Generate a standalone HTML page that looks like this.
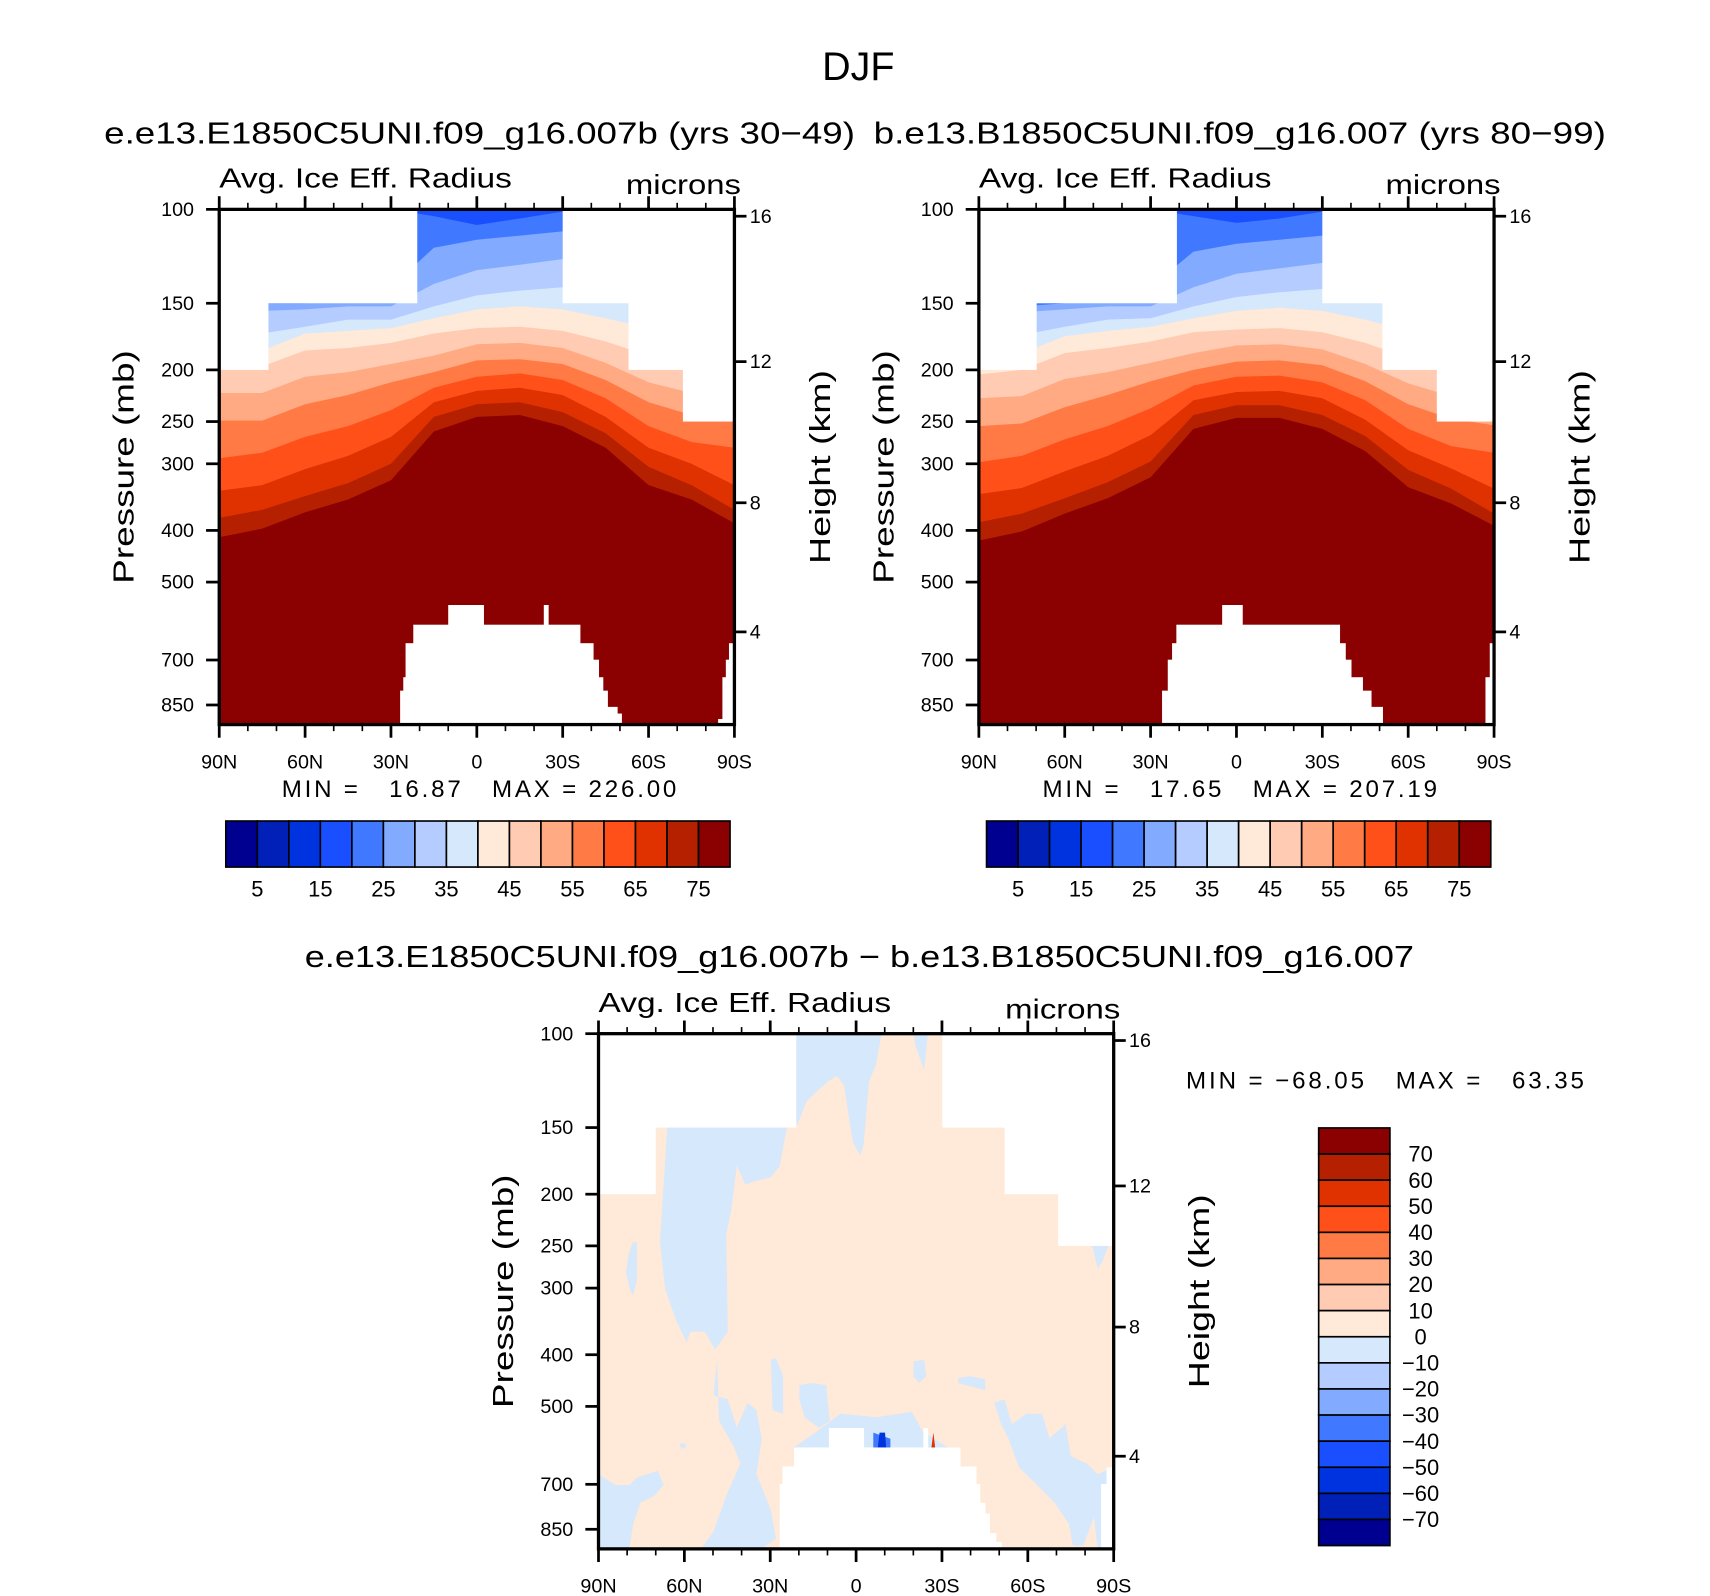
<!DOCTYPE html>
<html><head><meta charset="utf-8"><style>
html,body{margin:0;padding:0;background:#fff}
svg{display:block}
text{font-family:"Liberation Sans",sans-serif;fill:#000;white-space:pre}
</style></head><body>
<svg id="fig" width="1710" height="1596" viewBox="0 0 1560 1456" preserveAspectRatio="none" xmlns="http://www.w3.org/2000/svg">
<text x="783" y="73" font-size="36" text-anchor="middle">DJF</text>
<text x="95" y="131" font-size="28" textLength="685" lengthAdjust="spacingAndGlyphs">e.e13.E1850C5UNI.f09_g16.007b (yrs 30−49)</text>
<text x="797" y="131" font-size="28" textLength="668" lengthAdjust="spacingAndGlyphs">b.e13.B1850C5UNI.f09_g16.007 (yrs 80−99)</text>
<text x="278" y="882" font-size="28" textLength="1012" lengthAdjust="spacingAndGlyphs">e.e13.E1850C5UNI.f09_g16.007b − b.e13.B1850C5UNI.f09_g16.007</text>
<g id="plots"></g>
</svg>
<script>
// ---------- data ----------
const lats = [90,75,60,45,30,15,0,-15,-30,-45,-60,-75,-90];
const levels = [75,70,65,60,55,50,45,40,35,30,25,20];
const bandColors = ["#b42000","#e03200","#ff5019","#ff7a44","#ffaa82","#ffcbb2","#ffe9d8","#d6e8fc","#b4ccff","#82aaff","#4078ff","#1a4fff"];
const cbColors = ["#000090","#0020b8","#0033e0","#1a4fff","#4078ff","#82aaff","#b4ccff","#d6e8fc","#ffe9d8","#ffcbb2","#ffaa82","#ff7a44","#ff5019","#e03200","#b42000","#8b0000"];
const cbLabels = ["5","15","25","35","45","55","65","75"];
const diffCbLabels = ["70","60","50","40","30","20","10","0","−10","−20","−30","−40","−50","−60","−70"];
const pTicks = [100,150,200,250,300,400,500,700,850];
const zTicks = [[16,103],[12,193],[8,355],[4,620]]; // [km, pressure mb]
const latTickLabels = ["90N","60N","30N","0","30S","60S","90S"];

// boundary pressure (mb) of each contour level, per latitude (left panel)
const leftB75 = [412,397,370,350,322,261,245,243,255,280,329,350,388];
const leftB70 = [379,366,345,326,300,245,232,230,240,263,304,329,366];
const leftB65 = [337,329,307,290,267,230,219,216,223,245,280,300,329];
const leftB60 = [293,286,267,255,238,216,206,203,209,226,255,273,280];
const leftB55 = [249,249,232,223,211,202,192,191,195,209,230,243,249];
const leftB50 = [221,221,206,202,195,188,179,178,182,194,211,221,226];
const leftB45 = [200,197,184,182,178,171,167,166,169,177,188,200,206];
const leftB40 = [184,184,171,169,167,160,154,152,154,160,167,184,192];
const leftB35 = [167,171,166,161,161,152,145,142,140,145,152,167,175];
const leftB30 = [152,155,154,152,152,138,130,127,124,124,132,155,160];
const leftB25 = [140,150,150,140,140,118,114,112,110,108,140,140,140];
const leftB20 = [100,100,100,100,100,103,107,104,101,100,100,100,100];
// right panel
const rightB75 = [418,402,372,348,318,258,246,246,258,284,332,356,392];
const rightB70 = [386,372,348,325,297,243,233,233,243,266,308,334,372];
const rightB65 = [342,333,310,290,265,228,220,219,226,248,283,306,334];
const rightB60 = [298,290,270,255,236,214,206,205,211,228,258,278,286];
const rightB55 = [255,252,235,223,210,200,193,192,196,210,232,247,254];
const rightB50 = [226,224,208,202,194,186,180,179,183,195,212,224,230];
const rightB45 = [204,200,186,182,177,170,168,167,170,178,190,203,210];
const rightB40 = [186,186,173,169,166,160,155,153,155,161,169,186,195];
const rightB35 = [170,172,166,161,160,152,146,143,141,146,153,168,178];
const rightB30 = [152,156,154,152,152,140,132,129,126,126,133,156,162];
const rightB25 = [140,152,150,140,140,120,116,114,112,110,140,140,140];
const rightB20 = [100,100,100,100,100,103,106,104,101,100,100,100,100];

// data top (mb) per latitude band: [latNorth, latSouth, p]
const leftTopMask = [[90,73,200],[73,21,150],[21,-30,100],[-30,-53,150],[-53,-72,200],[-72,-90,250]];
const rightTopMask = [[90,70,200],[70,21,150],[21,-30,100],[-30,-51,150],[-51,-70,200],[-70,-90,250]];
const diffTopMask = [[90,70.2,200],[70.2,21.1,150],[21.1,-30.1,100],[-30.1,-51.9,150],[-51.9,-70.6,200],[-70.6,-90,250]];
// surface pressure (mb) per latitude band
const leftSurface = [[90,26.8,925],[26.8,25.7,799],[25.7,24.9,754],[24.9,22.2,651],[22.2,10,601],[10,-2.3,552],[-2.3,-23.4,601],[-23.4,-24.9,552],[-24.9,-36,601],[-36,-40.6,651],[-40.6,-42.5,699],[-42.5,-44,754],[-44,-45.6,799],[-45.6,-49,857],[-49,-50.5,882],[-50.5,-84.3,925],[-84.3,-85.8,903],[-85.8,-87,754],[-87,-88.1,699],[-88.1,-90,651]];
const rightSurface = [[90,26,925],[26,24,799],[24,22.5,699],[22.5,21,651],[21,5,601],[5,-2,552],[-2,-36,601],[-36,-38,651],[-38,-40,699],[-40,-44,754],[-44,-47,799],[-47,-51,857],[-51,-87,925],[-87,-88.5,754],[-88.5,-90,651]];
const diffSurface = [[90,26.7,925],[26.7,25.7,699],[25.7,21.7,648],[21.7,9.5,597],[9.5,-2.6,549],[-2.6,-23.5,597],[-23.5,-25,549],[-25,-36.3,597],[-36.3,-41.9,648],[-41.9,-43.2,699],[-43.2,-45,758],[-45,-46.6,794],[-46.6,-48.8,864],[-48.8,-50.7,898],[-50.7,-85.6,925],[-85.6,-87.5,699],[-87.5,-90,651]];

// difference field: regions of (-10..0) as [lat, p] outlines
const negRegion1 = [[21.1,100],[-8.9,100],[-7.0,114],[-4.5,123],[-2.6,162],[-1.4,169],[1.1,160],[4.2,125],[6.7,120],[9.9,123],[14.2,129],[17.3,134],[20.5,148],[24.2,150],[26.7,177],[29.8,186],[35.4,189],[38.6,192],[41.7,177],[43.6,214],[45.4,238],[44.8,362],[49.2,391],[52.9,362],[57.9,362],[59.2,379],[62.9,345],[66.7,301],[68.5,246],[66.0,150]];
const negRegion2 = [[-20.1,100],[-20.7,105],[-23.8,117],[-25.1,100]];
const negRegion3 = [[78,246],[76.6,246],[76.6,290],[77.9,310],[79.1,301],[80.4,280],[79.5,260]];
const negRegion4 = [[90,670],[84.1,702],[79.1,702],[76.6,680],[69.2,660],[67.3,702],[70.4,735],[75.4,758],[77.9,832],[79.1,912],[80,925],[90,925]];
const negRegion5 = [[48.6,409],[49.8,477],[44.8,485],[41.7,548],[37.9,492],[34.8,508],[33.0,574],[34.8,670],[29.8,782],[28.0,884],[33.0,925],[54.2,925],[49.8,858],[45.4,735],[40.4,640],[42.9,592],[47.9,532]];
const negRegion6 = [[29.8,409],[28.0,406],[25.5,439],[25.5,516],[29.2,508]];
const negRegion7 = [[19.8,456],[15.5,452],[10.5,456],[9.2,532],[13.0,548],[18.0,524],[19.8,485]];
const negRegion8 = [[15.5,566],[5.5,516],[-7.0,524],[-19.5,512],[-23.2,557],[-32.0,597],[21.7,597]];
const negRegion9 = [[-20.1,412],[-23.8,409],[-24.5,439],[-22.0,452],[-20.1,440]];
const negRegion10 = [[-35.7,442],[-40.1,439],[-45.1,445],[-45.1,466],[-40.7,459],[-38.2,456],[-35.7,452]];
const negRegion11 = [[-48.2,492],[-51.9,485],[-54.4,540],[-59.4,516],[-65.0,516],[-67.5,574],[-73.2,540],[-75,620],[-80.6,640],[-84.4,670],[-90,650],[-90,925],[-84.4,925],[-83.1,806],[-79.4,912],[-75.7,912],[-74.4,832],[-69.4,758],[-63.2,702],[-56.9,650],[-53.2,574],[-50.7,540]];
const negRegion12 = [[-82.5,250],[-88.1,250],[-86.3,266],[-84.4,276]];
const negRegion13 = [[61.7,588],[59.8,586],[59.2,594],[61.0,601]];
const strongNegA = [[-6,560],[-12,575],[-12,597],[-6,597]];
const strongNegB = [[-8.2,560],[-10.1,560],[-10.5,597],[-7.6,597]];
const strongPos = [[-27,560],[-27.6,597],[-26.3,597]];

// ---------- drawing ----------
const NS = "http://www.w3.org/2000/svg";
const root = document.getElementById('plots');
const W = 470, H = 470, PBOT = 925;
function el(tag, attrs, parent){const e=document.createElementNS(NS,tag);for(const k in attrs)e.setAttribute(k,attrs[k]);(parent||root).appendChild(e);return e;}
function mkAxes(x0,y0){
  return {x:lat=>x0+(90-lat)/180*W, y:p=>y0+H*Math.log(p/100)/Math.log(PBOT/100)};
}
function polyPts(ax, pts){return pts.map(d=>ax.x(d[0]).toFixed(1)+','+ax.y(d[1]).toFixed(1)).join(' ');}

function drawPanel(id, x0, y0, boundaries, topMask, surface, diff){
  const ax = mkAxes(x0,y0);
  const g = el('g',{});
  
  
  const cp = el('clipPath',{id:id+'-clip'},g);
  el('rect',{x:x0,y:y0,width:W,height:H},cp);
  const field = el('g',{'clip-path':'url(#'+id+'-clip)'},g);
  
  
  if(!diff){
    const base = el('rect',{x:x0,y:y0,width:W,height:H,fill:'#8b0000'},field);
    
    
    boundaries.forEach((arr,i)=>{
      const pts = [[90,100]].concat(lats.map((l,j)=>[l,arr[j]])).concat([[-90,100]]);
      const pg = el('polygon',{points:polyPts(ax,pts),fill:bandColors[i]},field);
      
      
    });
  } else {
    const base = el('rect',{x:x0,y:y0,width:W,height:H,fill:'#ffe9d8'},field);
    
    
    boundaries.forEach((reg,i)=>{
      const pg = el('polygon',{points:polyPts(ax,reg.pts),fill:reg.c},field);
      
      
    });
  }
  topMask.forEach(m=>{
    const r = el('rect',{x:ax.x(m[0]),y:y0,width:ax.x(m[1])-ax.x(m[0])+0.5,height:ax.y(m[2])-y0,fill:'#fff'},field);
    
    
  });
  surface.forEach(m=>{
    if(m[2]>=PBOT) return;
    const r = el('rect',{x:ax.x(m[0]),y:ax.y(m[2]),width:ax.x(m[1])-ax.x(m[0])+0.5,height:y0+H-ax.y(m[2]),fill:'#fff'},field);
    
    
  });
  const fr = el('rect',{x:x0,y:y0,width:W,height:H,fill:'none',stroke:'#000','stroke-width':3},g);
  
  
  for(let l=90;l>=-90;l-=10){
    const major = l%30===0, len = major?12:6, x=ax.x(l);
    const t1 = el('line',{x1:x,x2:x,y1:y0+H,y2:y0+H+len,stroke:'#000','stroke-width':major?2.5:1.5},g);
    
    
    const t2 = el('line',{x1:x,x2:x,y1:y0,y2:y0-len,stroke:'#000','stroke-width':major?2.5:1.5},g);
    
    
  }
  latTickLabels.forEach((s,i)=>{
    const t = el('text',{x:ax.x(90-30*i),y:y0+H+40,'font-size':18,'text-anchor':'middle'},g);
    t.textContent = s;
    
    
  });
  pTicks.forEach(p=>{
    const y=ax.y(p);
    const tl = el('line',{x1:x0-12,x2:x0,y1:y,y2:y,stroke:'#000','stroke-width':2.5},g);
    
    
    const t = el('text',{x:x0-23,y:y+6,'font-size':18,'text-anchor':'end'},g);
    t.textContent = p;
    
    
  });
  zTicks.forEach(z=>{
    const y=ax.y(z[1]);
    const tl = el('line',{x1:x0+W,x2:x0+W+11,y1:y,y2:y,stroke:'#000','stroke-width':2.5},g);
    
    
    const t = el('text',{x:x0+W+14,y:y+6,'font-size':18},g);
    t.textContent = z[0];
    
    
  });
  const cy = y0+H/2;
  const yl = el('text',{x:0,y:0,'font-size':26,'text-anchor':'middle',transform:`translate(${x0-78},${cy}) rotate(-90)`,textLength:213,lengthAdjust:'spacingAndGlyphs'},g);
  yl.textContent = 'Pressure (mb)';
  
  
  const hl = el('text',{x:0,y:0,'font-size':26,'text-anchor':'middle',transform:`translate(${x0+W+87},${cy}) rotate(-90)`,textLength:177,lengthAdjust:'spacingAndGlyphs'},g);
  hl.textContent = 'Height (km)';
  
  
  const vn = el('text',{x:x0,y:y0-20,'font-size':25,textLength:267,lengthAdjust:'spacingAndGlyphs'},g);
  vn.textContent = 'Avg. Ice Eff. Radius';
  
  
  const un = el('text',{x:x0+W+6,y:y0-14,'font-size':25,'text-anchor':'end',textLength:105,lengthAdjust:'spacingAndGlyphs'},g);
  un.textContent = 'microns';
  
  
}

function hColorbar(id,x0,y0){
  const g = el('g',{});
  
  
  const bw = 460/16;
  cbColors.forEach((c,i)=>{
    const r = el('rect',{x:x0+i*bw,y:y0,width:bw,height:42,fill:c,stroke:'#000','stroke-width':1.5},g);
    
    
  });
  cbLabels.forEach((s,i)=>{
    const t = el('text',{x:x0+(1+2*i)*bw,y:y0+69,'font-size':20,'text-anchor':'middle'},g);
    t.textContent = s;
    
    
  });
}
function vColorbar(id,x0,y0){
  const g = el('g',{});
  
  
  const bh = 381/16;
  cbColors.slice().reverse().forEach((c,i)=>{
    const r = el('rect',{x:x0,y:y0+i*bh,width:65,height:bh,fill:c,stroke:'#000','stroke-width':1.5},g);
    
    
  });
  diffCbLabels.forEach((s,i)=>{
    const t = el('text',{x:x0+93,y:y0+(i+1)*bh+7,'font-size':20,'text-anchor':'middle'},g);
    t.textContent = s;
    
    
  });
}
function txt(name,s,x,y,size,len){
  const t = el('text',{x:x,y:y,'font-size':size,textLength:len,lengthAdjust:'spacing'});
  t.textContent = s;
  
  
}

drawPanel('left',200,191,[leftB75,leftB70,leftB65,leftB60,leftB55,leftB50,leftB45,leftB40,leftB35,leftB30,leftB25,leftB20],leftTopMask,leftSurface,false);
drawPanel('right',893,191,[rightB75,rightB70,rightB65,rightB60,rightB55,rightB50,rightB45,rightB40,rightB35,rightB30,rightB25,rightB20],rightTopMask,rightSurface,false);
const neg = "#d6e8fc";
drawPanel('diff',546,943,[
  {pts:negRegion1,c:neg},{pts:negRegion2,c:neg},{pts:negRegion3,c:neg},{pts:negRegion4,c:neg},
  {pts:negRegion5,c:neg},{pts:negRegion6,c:neg},{pts:negRegion7,c:neg},{pts:negRegion8,c:neg},
  {pts:negRegion9,c:neg},{pts:negRegion10,c:neg},{pts:negRegion11,c:neg},{pts:negRegion12,c:neg},
  {pts:negRegion13,c:neg},{pts:strongNegA,c:"#4078ff"},{pts:strongNegB,c:"#0033e0"},{pts:strongPos,c:"#e03200"}
],diffTopMask,diffSurface,true);

txt('left-min-max','MIN =   16.87   MAX = 226.00',257,727,22,360);
txt('right-min-max','MIN =   17.65   MAX = 207.19',951,727,22,360);
txt('diff-min-max','MIN = −68.05   MAX =   63.35',1082,993,22,363);
hColorbar('left-colorbar',206,749);
hColorbar('right-colorbar',900,749);
vColorbar('diff-colorbar',1203,1029);
</script>
</body></html>
